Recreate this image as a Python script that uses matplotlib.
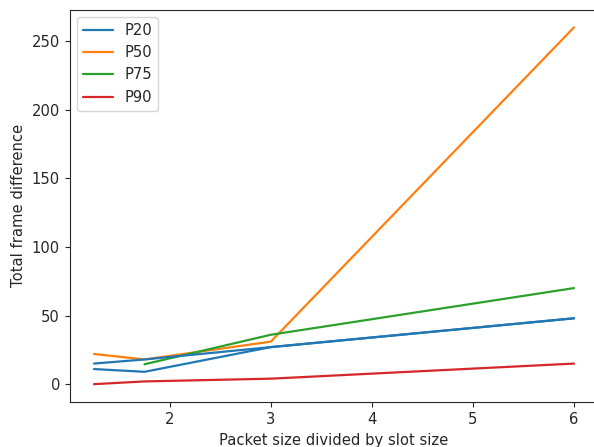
import matplotlib
matplotlib.use("Agg")
import matplotlib.pyplot as plt
import seaborn as sns

sns.set_style("ticks")
plt.rcParams['font.family'] = ['DejaVu Sans']
plt.rcParams['font.size'] = 10.6
plt.rcParams['lines.linewidth'] = 1.6
plt.rcParams['xtick.major.size'] = 3.7
plt.rcParams['ytick.major.size'] = 3.7

x = [1.25, 1.75, 3, 6]
p20_a = [11, 9, 27, 48]
p20_b = [15, 18, 27, 48]
p50 = [22, 18, 31, 260]
p75_x = [1.75, 3, 6]
p75 = [14.5, 36, 70]
p90 = [0, 2, 4, 15]

fig = plt.figure(figsize=(5.94, 4.47), dpi=100)
ax = fig.add_axes([70/594, 1-402/447, (598-70)/594, (402-9.5)/447])

ax.plot(x, p20_a, color='#1f77b4', label='P20')
ax.plot(x, p50, color='#ff7f0e', label='P50')
ax.plot(p75_x, p75, color='#2ca02c', label='P75')
ax.plot(x, p90, color='#d62728', label='P90')
ax.plot(x, p20_b, color='#1f77b4', label='_nolegend_')

ax.set_xlim(1.0125, 6.2375)
ax.set_xlabel('Packet size divided by slot size')
ax.set_ylabel('Total frame difference')
ax.set_xticks([2, 3, 4, 5, 6])
ax.set_yticks([0, 50, 100, 150, 200, 250])
ax.legend(loc='upper left')

fig.savefig('out.png', dpi=100)
